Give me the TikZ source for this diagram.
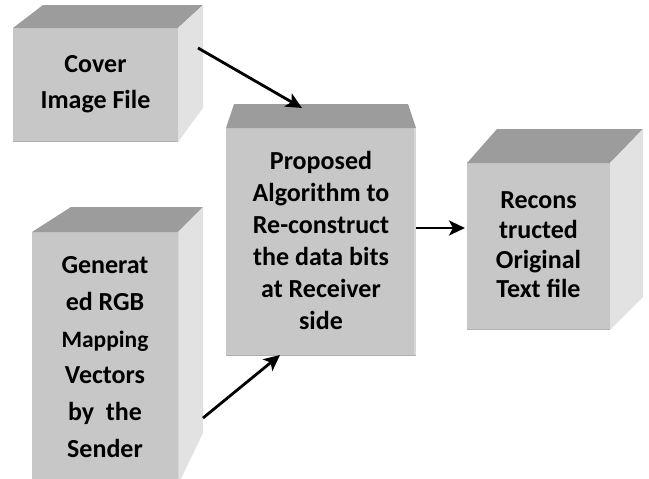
\documentclass[tikz,border=0pt]{standalone}
\usepackage{fontspec}
\setmainfont{Carlito}
\usetikzlibrary{arrows.meta,calc}
\definecolor{frontc}{RGB}{199,199,199}
\definecolor{topc}{RGB}{156,156,156}
\definecolor{sidec}{RGB}{226,226,226}
\definecolor{edgec}{RGB}{176,176,176}
\definecolor{lightedge}{RGB}{214,214,214}
\begin{document}
\begin{tikzpicture}[x=1pt,y=-1pt,
  front/.style={fill=frontc, draw=none, inner sep=0pt, outer sep=0pt},
  topface/.style={fill=topc},
  sideface/.style={fill=sidec},
  bottomedge/.style={draw=edgec, line width=1.5pt},
  label/.style={align=center, inner sep=0pt, font=\fontsize{26}{36}\selectfont\bfseries},
  arr/.style={line width=2.8pt, -{Stealth[length=16pt,width=15pt,inset=4pt]}}]
\useasboundingbox (0,0) rectangle (649,479);

% Box 1: Cover Image File
\node[front, minimum width=165, minimum height=114] (cover) at (95.5,85) {};
\fill[topface] (13,28) -- (43,5) -- (203,5) -- (178,28) -- cycle;
\fill[sideface] (178,28) -- (203,5) -- (203,108) -- (178,142) -- cycle;
\draw[bottomedge] (13,141.5) -- (178,141.5);
\node[label, font=\fontsize{26}{36}\selectfont\bfseries] (coverT) at (95.5,84) {Cover\\Image File};

% Box 2: Generated RGB
\node[front, minimum width=146, minimum height=250] (gen) at (105,357) {};
\fill[topface] (32,232) -- (71,207) -- (203,207) -- (178,232) -- cycle;
\fill[sideface] (178,232) -- (203,207) -- (203,433) -- (178,485) -- cycle;
\draw[lightedge, line width=1pt] (178.5,232) -- (178.5,482);
\node[label, font=\fontsize{26}{36.8}\selectfont\bfseries] (genT) at (105,357)
  {Generat\\ed RGB\\{\fontsize{23.5}{36.8}\selectfont Mapping}\\Vectors\\by\ \ the\\Sender};

% Box 3: Proposed Algorithm
\node[front, minimum width=190, minimum height=228] (prop) at (321,242) {};
\fill[topface] (226,128) -- (234,104) -- (408,104) -- (416,128) -- cycle;
\draw[lightedge, line width=1.5pt] (415,128) -- (415,356);
\draw[bottomedge] (226,355.5) -- (416,355.5);
\node[label, font=\fontsize{26}{32}\selectfont\bfseries] (propT) at (321,240)
  {Proposed\\Algorithm to\\Re-construct\\the data bits\\at Receiver\\side};

% Box 4: Reconstructed Original Text file
\node[front, minimum width=143, minimum height=167] (rec) at (538.5,246.5) {};
\fill[topface] (467,163) -- (497,129) -- (643,129) -- (610,163) -- cycle;
\fill[sideface] (610,163) -- (643,129) -- (643,297) -- (610,330) -- cycle;
\draw[bottomedge] (467,329.5) -- (610,329.5);
\node[label, font=\fontsize{26}{29.7}\selectfont\bfseries] (recT) at (538.5,245)
  {Recons\\tructed\\Original\\Text file};

% Connectors
\coordinate (s1) at ($(cover.north east)+(20,20)$);
\coordinate (s2) at ($(gen.east)+(25,61)$);
\draw[arr] (s1) -- ($(prop.north)+(-19,-20)$);
\draw[arr] (s2) -- ($(prop.south)+(-41,-1)$);
\draw[arr] ([yshift=14pt]prop.east) -- ([yshift=14pt,xshift=-2pt]prop.east -| rec.west);
\end{tikzpicture}
\end{document}
